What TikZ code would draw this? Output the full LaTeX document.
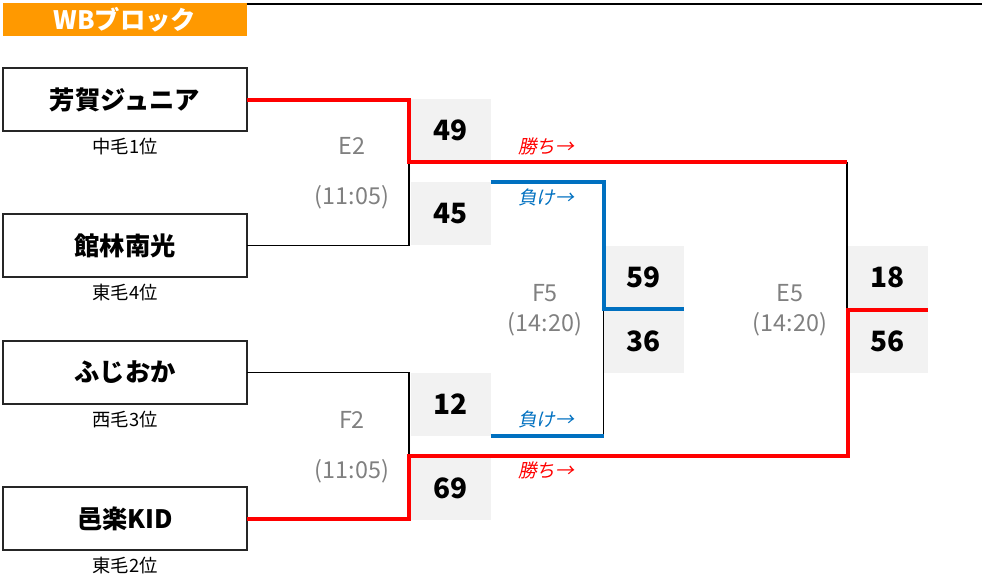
\documentclass[tikz,border=0pt]{standalone}
\usepackage{fontspec}
\setmainfont{Noto Sans CJK JP}[AutoFakeSlant=0.2]
\usepackage[]{tikz}
\usetikzlibrary{positioning,calc}
\definecolor{hdrorange}{HTML}{FF9900}
\definecolor{scoregray}{HTML}{F2F2F2}
\definecolor{wonred}{HTML}{FF0000}
\definecolor{lostblue}{HTML}{0070C0}
\definecolor{infogray}{HTML}{808080}
\tikzset{team node/.style={rectangle,draw=black!85,line width=1pt,minimum width=183pt,minimum height=47.25pt,inner sep=0pt,outer sep=0pt,font=\fontsize{19}{21}\selectfont\bfseries}}
\tikzset{score node/.style={rectangle,fill=scoregray,minimum width=60pt,minimum height=47.25pt,inner sep=0pt,outer sep=0pt,font=\fontsize{21}{24}\selectfont\bfseries}}
\tikzset{sub node/.style={inner sep=0pt,font=\fontsize{13.75}{15}\selectfont}}
\tikzset{info node/.style={inner sep=0pt,text=infogray,font=\fontsize{17.5}{19}\selectfont}}
\tikzset{win line/.style={draw=wonred,line width=3pt}}
\tikzset{lose line/.style={draw=lostblue,line width=3pt}}
\tikzset{plain line/.style={draw=black,line width=1pt}}

\begin{document}
\begin{tikzpicture}[x=0.75pt,y=-0.75pt]
      \useasboundingbox (0,0) rectangle (982,582);
      % header
      \node[fill=hdrorange,text=white,minimum width=183pt,minimum height=24.75pt,inner sep=0pt,font=\fontsize{19}{21}\selectfont\bfseries] (hdr) at (125,19.5) {WBブロック};
      \coordinate (rim) at (982,4);
      \draw[plain line] (hdr.north east |- rim) -- (rim);
      % teams
      \node[team node] (t1) at (125,99.5) {芳賀ジュニア};
      \node[team node] (t2) at (125,245.5) {館林南光};
      \node[team node] (t3) at (125,372.5) {ふじおか};
      \node[team node] (t4) at (125,518.5) {邑楽KID};
      \node[sub node] (r1) [below=5pt of t1] {中毛1位};
      \node[sub node] (r2) [below=5pt of t2] {東毛4位};
      \node[sub node] (r3) [below=5pt of t3] {西毛3位};
      \node[sub node] (r4) [below=5pt of t4] {東毛2位};
      % scores
      \node[score node] (s49) at (450.5,130.5) {49};
      \node[score node] (s45) at (450.5,213.5) {45};
      \node[score node] (s12) at (450.5,404) {12};
      \node[score node] (s69) at (450.5,488) {69};
      \node[score node] (s59) at (643.5,277) {59};
      \node[score node] (s36) at (643.5,341) {36};
      \node[score node] (s18) at (887.5,277) {18};
      \node[score node] (s56) at (887.5,341) {56};
      % match labels
      \node[info node] (e2) at (352,146) {E2};
      \node[info node] (e2t) at (352,197) {(11:05)};
      \node[info node] (f2) at (352,420) {F2};
      \node[info node] (f2t) at (352,471) {(11:05)};
      \node[info node] (f5) at (545,293) {F5};
      \node[info node] (f5t) at (545,324) {(14:20)};
      \node[info node] (e5) at (790,293) {E5};
      \node[info node] (e5t) at (790,324) {(14:20)};
      \node[sub node,text=wonred,font=\fontsize{14}{16}\selectfont\itshape] (w1) at (546,146) {勝ち→};
      \node[sub node,text=wonred,font=\fontsize{14}{16}\selectfont\itshape] (w2) at (546,470) {勝ち→};
      \node[sub node,text=lostblue,font=\fontsize{14}{16}\selectfont\itshape] (l1) at (546,197) {負け→};
      \node[sub node,text=lostblue,font=\fontsize{14}{16}\selectfont\itshape] (l2) at (546,419) {負け→};
      % bracket
      \coordinate (e2w) at (409,162);
      \coordinate (f2w) at (409,456);
      \coordinate (e5a) at (847,162);
      \coordinate (e5b) at (848,456);
      \draw[plain line] (t2.east) -| (e2w);
      \draw[plain line] (t3.east) -| (f2w);
      \draw[plain line] (e5a) -- (e5a |- s18.south);
      \draw[plain line] (s12.south east -| s59.south west) -- (s59.south west);
      \draw[win line] (t1.east) -| (e2w) -- (e5a);
      \draw[win line] (t4.east) -| (f2w) -- (e5b) |- (s56.north east);
      \draw[lose line] (s45.north east) -| (s59.south west) -- (s59.south east);
      \draw[lose line] (s12.south east) -- (s12.south east -| s59.south west);
    \end{tikzpicture}
\end{document}
